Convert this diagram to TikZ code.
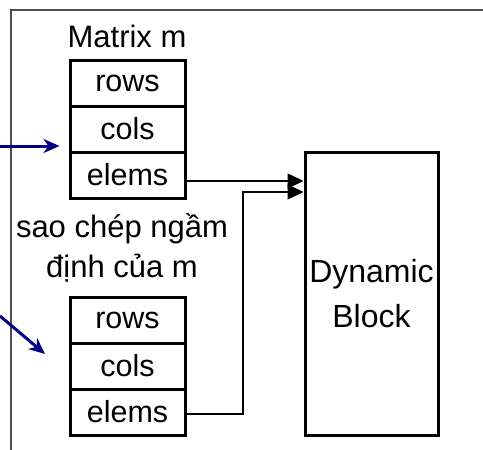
\documentclass[tikz,border=0pt]{standalone}
\usepackage{fontspec}
\setmainfont{Liberation Sans}
\usetikzlibrary{arrows.meta}
\definecolor{navyblue}{RGB}{0,0,128}
\begin{document}
\begin{tikzpicture}[x=1pt,y=-1pt,
  txt/.style={font=\fontsize{31}{40}\selectfont, inner sep=0pt, align=center},
  cell/.style={draw, line width=3pt, minimum width=115pt, minimum height=46pt, inner sep=0pt, font=\fontsize{30.5}{40}\selectfont},
  blk/.style={draw, line width=3pt, minimum width=133pt, minimum height=283pt, inner sep=0pt, align=center, font=\fontsize{32}{45}\selectfont},
  link/.style={line width=1.6pt, -{Triangle[length=16pt,width=15pt]}},
  bluearr/.style={draw=navyblue, line width=3pt, -{Stealth[length=16pt,width=14pt,inset=5pt]}},
  frame/.style={line width=1.6pt, draw=black!70}]
\useasboundingbox (0,0) rectangle (483,450);
% frame
\coordinate (f1) at (11,450);
\coordinate (f2) at (11,10);
\coordinate (f3) at (484,10);
\draw[frame] (f1) -- (f2) -- (f3);
% labels
\node[txt] (lab1) at (127,36) {Matrix m};
\node[txt] (lab2) at (122,248) {sao chép ngầm\\định của m};
% upper struct
\node[cell] (rows1) at (127.5,83) {rows};
\node[cell] (cols1) at (127.5,129) {cols};
\node[cell] (elems1) at (127.5,175) {elems};
% lower struct
\node[cell] (rows2) at (127.5,320) {rows};
\node[cell] (cols2) at (127.5,366) {cols};
\node[cell] (elems2) at (127.5,412) {elems};
% block
\node[blk] (block) at (371.5,293.5) {Dynamic\\Block};
% connectors
\draw[link] ([yshift=-6pt]elems1.east) -- ([yshift=-6pt]elems1.east -| block.west);
\coordinate (bend) at (243,192);
\draw[link] ([yshift=-2pt]elems2.east) -| (bend) -- (bend -| block.west);
% blue arrows
\coordinate (in1) at (0,146);
\draw[bluearr] (in1) -- ([xshift=-9pt]in1 -| cols1.west);
\coordinate (in2) at (0,316);
\coordinate (tip2) at (45,354);
\draw[bluearr] (in2) -- (tip2);
\end{tikzpicture}
\end{document}
